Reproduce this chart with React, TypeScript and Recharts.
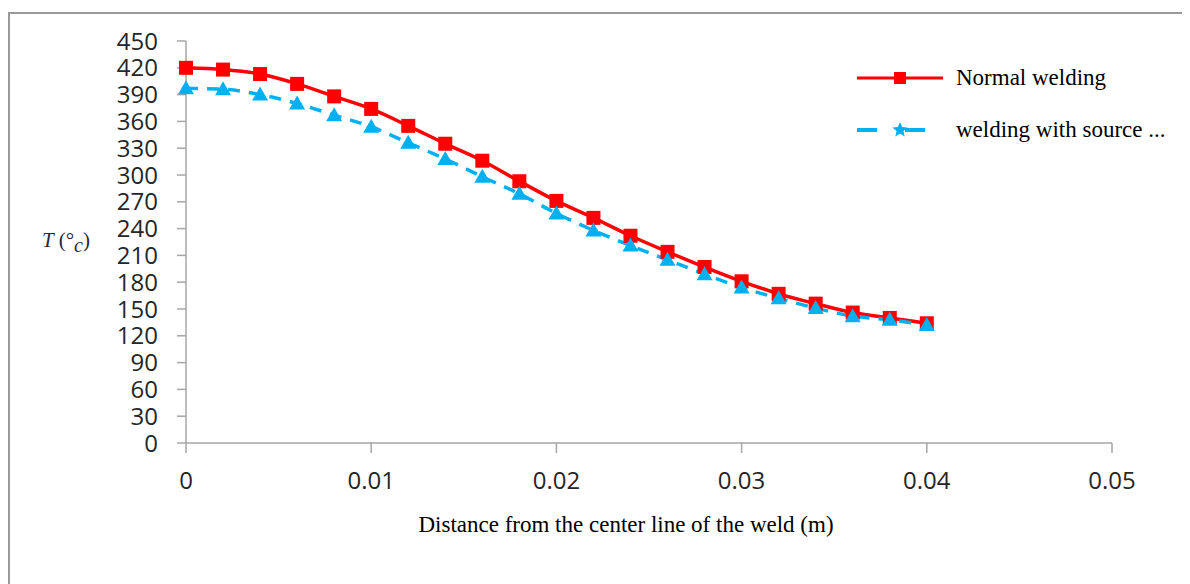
import React from "react";
import { Legend, Line, LineChart, XAxis, YAxis } from "recharts";

const distances = [
  0, 0.002, 0.004, 0.006, 0.008, 0.01, 0.012, 0.014, 0.016, 0.018, 0.02,
  0.022, 0.024, 0.026, 0.028, 0.03, 0.032, 0.034, 0.036, 0.038, 0.04,
];
const normalWelding = [
  420, 418, 413, 402, 388, 374, 355, 335, 316, 293, 271, 252, 232, 214, 197,
  181, 167, 156, 146, 140, 134,
];
const withSource = [
  397, 396, 390, 380, 367, 354, 336, 318, 298, 279, 257, 238, 221, 205, 189,
  174, 162, 151, 142, 138, 132,
];
const xTicks = [0, 0.01, 0.02, 0.03, 0.04, 0.05];
const yTicks = [0, 30, 60, 90, 120, 150, 180, 210, 240, 270, 300, 330, 360, 390, 420, 450];

const RED = "#ff0000";
const BLUE = "#00b0f0";
const AXIS = "#a6a6a6";
const SERIF = "Liberation Serif, Times New Roman, serif";
const tickFont = { fill: "#262626", fontSize: 24, fontFamily: "Open Sans" };

const data = distances.map((x, i) => ({
  x,
  normal: normalWelding[i],
  source: withSource[i],
}));

function SquareDot(props: any) {
  const { cx, cy, index } = props;
  if (cx == null || cy == null) return null;
  return <rect key={`sq-${index}`} x={cx - 7} y={cy - 7} width={14} height={14} fill={RED} />;
}

function TriangleDot(props: any) {
  const { cx, cy, index } = props;
  if (cx == null || cy == null) return null;
  return (
    <polygon
      key={`tr-${index}`}
      points={`${cx},${cy - 8} ${cx + 8},${cy + 6} ${cx - 8},${cy + 6}`}
      fill={BLUE}
    />
  );
}

function star(cx: number, cy: number, r: number) {
  const pts: string[] = [];
  for (let i = 0; i < 10; i++) {
    const rad = i % 2 === 0 ? r : r * 0.45;
    const a = -Math.PI / 2 + (i * Math.PI) / 5;
    pts.push(`${cx + rad * Math.cos(a)},${cy + rad * Math.sin(a)}`);
  }
  return pts.join(" ");
}

function LegendBox() {
  return (
    <svg width={330} height={95} style={{ display: "block" }}>
      <line x1={9} y1={20} x2={95} y2={20} stroke={RED} strokeWidth={3} />
      <rect x={46} y={14} width={12} height={12} fill={RED} />
      <text x={108} y={27} fontSize={23} fontFamily={SERIF} fill="#000">
        Normal welding
      </text>
      <line x1={9} y1={72} x2={95} y2={72} stroke={BLUE} strokeWidth={4} strokeDasharray="20 28" />
      <polygon points={star(52, 72, 8)} fill={BLUE} />
      <text x={108} y={79} fontSize={23} fontFamily={SERIF} fill="#000">
        welding with source ...
      </text>
    </svg>
  );
}

function YTitle(props: any) {
  const { viewBox } = props;
  const x = viewBox.x - 84;
  const y = viewBox.y + viewBox.height / 2 + 5;
  return (
    <text x={x} y={y} fontFamily={SERIF} fontSize={21} fill="#1f2a44">
      <tspan fontStyle="italic">T</tspan>
      <tspan dx={5}>(°</tspan>
      <tspan fontStyle="italic" dy={5} fontSize={20}>c</tspan>
      <tspan dy={-5}>)</tspan>
    </text>
  );
}

function XTitle(props: any) {
  const { viewBox } = props;
  return (
    <text
      x={viewBox.x + viewBox.width / 2 - 23}
      y={viewBox.y + 89}
      textAnchor="middle"
      fontFamily={SERIF}
      fontSize={23}
      fill="#000"
    >
      Distance from the center line of the weld (m)
    </text>
  );
}

export default function App() {
  return (
    <div style={{ position: "relative", width: 1182, height: 576, background: "#fff" }}>
      <div
        style={{
          position: "absolute",
          left: 0,
          top: 4,
          right: -20,
          bottom: -20,
          borderTop: "2px solid #999",
          borderLeft: "2px solid #999",
        }}
      />
      <LineChart
        width={1182}
        height={576}
        data={data}
        margin={{ top: 33, right: 78, bottom: 101, left: 118 }}
        style={{ position: "absolute", left: 0, top: 0 }}
      >
        <XAxis
          dataKey="x"
          type="number"
          domain={[0, 0.05]}
          ticks={xTicks}
          tickFormatter={(v: number) => String(v)}
          interval={0}
          height={40}
          stroke={AXIS}
          strokeWidth={1.5}
          tickSize={10}
          tickMargin={19}
          tick={tickFont}
          label={{ content: XTitle }}
        />
        <YAxis
          type="number"
          domain={[0, 450]}
          ticks={yTicks}
          interval={0}
          width={60}
          stroke={AXIS}
          strokeWidth={1.5}
          tickSize={9}
          tickMargin={19}
          tick={tickFont}
          label={{ content: YTitle }}
        />
        <Legend
          layout="horizontal"
          verticalAlign="middle"
          align="center"
          wrapperStyle={{ position: "absolute", top: 50, left: 840, width: 330 }}
          content={() => <LegendBox />}
        />
        <Line
          type="monotone"
          dataKey="normal"
          stroke={RED}
          strokeWidth={3.5}
          dot={SquareDot}
          activeDot={false}
          isAnimationActive={false}
        />
        <Line
          type="monotone"
          dataKey="source"
          stroke={BLUE}
          strokeWidth={3.5}
          strokeDasharray="12 9"
          dot={TriangleDot}
          activeDot={false}
          isAnimationActive={false}
        />
      </LineChart>
    </div>
  );
}
